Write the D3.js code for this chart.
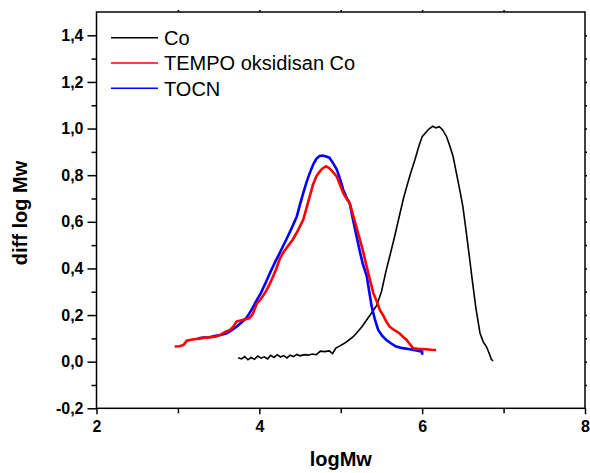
<!DOCTYPE html>
<html lang="en">
<head>
  <meta charset="UTF-8">
  <script src="https://cdn.jsdelivr.net/npm/d3@7"></script>
  <title>GPC</title>
  <style>
    body { margin: 0; background: #fff; }
    svg { display: block; }
    text { font-family: Arial, 'Liberation Sans', sans-serif; }
  </style>
</head>
<body>
  <svg id="chart" width="590" height="473"></svg>
  <script>
    // series: [logMw, diff log Mw]
    const co = [
      [3.74, 0.017], [3.78, 0.012], [3.82, 0.022], [3.86, 0.008], [3.90, 0.018], [3.94, 0.010],
      [3.98, 0.024], [4.02, 0.015], [4.06, 0.021], [4.10, 0.012], [4.14, 0.027], [4.18, 0.018],
      [4.22, 0.030], [4.26, 0.020], [4.30, 0.026], [4.34, 0.016], [4.38, 0.028], [4.42, 0.022],
      [4.46, 0.031], [4.50, 0.025], [4.55, 0.030], [4.60, 0.028], [4.65, 0.033], [4.70, 0.030],
      [4.75, 0.045], [4.80, 0.043], [4.86, 0.046], [4.90, 0.035], [4.94, 0.058], [4.99, 0.068],
      [5.05, 0.080], [5.10, 0.093], [5.15, 0.106], [5.20, 0.125], [5.26, 0.150], [5.32, 0.180],
      [5.38, 0.210], [5.44, 0.240], [5.50, 0.300], [5.55, 0.380], [5.60, 0.450], [5.65, 0.520],
      [5.69, 0.580], [5.73, 0.640], [5.77, 0.700], [5.81, 0.750], [5.86, 0.810], [5.91, 0.865],
      [5.96, 0.925], [6.00, 0.965], [6.05, 0.985], [6.09, 1.000], [6.13, 1.010], [6.17, 1.003],
      [6.21, 1.008], [6.25, 0.995], [6.30, 0.965], [6.34, 0.925], [6.38, 0.880], [6.42, 0.810],
      [6.46, 0.740], [6.50, 0.665], [6.54, 0.560], [6.58, 0.450], [6.62, 0.337], [6.66, 0.230],
      [6.71, 0.123], [6.75, 0.085], [6.79, 0.064], [6.83, 0.030], [6.85, 0.010], [6.87, 0.003]
    ];
    const tempo = [
      [2.96, 0.065], [3.02, 0.066], [3.07, 0.072], [3.11, 0.090], [3.16, 0.094], [3.22, 0.097],
      [3.27, 0.100], [3.33, 0.103], [3.40, 0.105], [3.47, 0.108], [3.52, 0.115], [3.58, 0.128],
      [3.64, 0.136], [3.68, 0.150], [3.72, 0.172], [3.78, 0.178], [3.83, 0.182], [3.88, 0.187],
      [3.92, 0.205], [3.97, 0.250], [4.02, 0.270], [4.06, 0.290], [4.09, 0.308], [4.13, 0.335],
      [4.17, 0.366], [4.21, 0.400], [4.25, 0.440], [4.29, 0.466], [4.35, 0.495], [4.41, 0.523],
      [4.47, 0.560], [4.54, 0.610], [4.58, 0.660], [4.62, 0.710], [4.66, 0.760], [4.70, 0.795],
      [4.74, 0.815], [4.78, 0.830], [4.82, 0.838], [4.86, 0.830], [4.90, 0.815], [4.95, 0.795],
      [4.99, 0.760], [5.03, 0.724], [5.07, 0.700], [5.11, 0.680], [5.15, 0.630], [5.19, 0.580],
      [5.23, 0.530], [5.27, 0.480], [5.31, 0.420], [5.36, 0.350], [5.40, 0.294], [5.44, 0.260],
      [5.48, 0.222], [5.52, 0.200], [5.56, 0.172], [5.60, 0.150], [5.66, 0.135], [5.72, 0.122],
      [5.77, 0.105], [5.81, 0.093], [5.85, 0.075], [5.89, 0.057], [5.95, 0.055], [6.05, 0.053],
      [6.11, 0.051], [6.17, 0.050]
    ];
    const tocn = [
      [3.25, 0.100], [3.32, 0.104], [3.39, 0.105], [3.45, 0.110], [3.52, 0.114], [3.60, 0.122],
      [3.66, 0.135], [3.72, 0.150], [3.78, 0.168], [3.84, 0.187], [3.90, 0.220], [3.97, 0.265],
      [4.02, 0.295], [4.08, 0.340], [4.13, 0.380], [4.19, 0.425], [4.25, 0.466], [4.29, 0.495],
      [4.33, 0.523], [4.40, 0.575], [4.46, 0.623], [4.50, 0.675], [4.54, 0.724], [4.58, 0.770],
      [4.62, 0.810], [4.66, 0.845], [4.70, 0.870], [4.74, 0.882], [4.78, 0.884], [4.82, 0.880],
      [4.86, 0.875], [4.90, 0.855], [4.95, 0.825], [4.99, 0.785], [5.03, 0.738], [5.07, 0.705],
      [5.11, 0.680], [5.15, 0.610], [5.19, 0.545], [5.23, 0.480], [5.27, 0.420], [5.32, 0.366],
      [5.35, 0.300], [5.38, 0.237], [5.42, 0.180], [5.46, 0.136], [5.51, 0.110], [5.56, 0.093],
      [5.62, 0.078], [5.68, 0.065], [5.76, 0.058], [5.85, 0.053], [5.93, 0.048], [6.00, 0.043],
      [6.00, 0.030]
    ];
    const xTicks = [2, 4, 6, 8];
    const yTicks = [-0.2, 0, 0.2, 0.4, 0.6, 0.8, 1.0, 1.2, 1.4];
    const legendNames = ["Co", "TEMPO oksidisan Co", "TOCN"];
    const colors = ["#000000", "#ff0000", "#0000ff"];

    const svg = d3.select("#chart");
    const mLeft = 96.5, mRight = 585, mTop = 12, mBottom = 408.3;
    const x = d3.scaleLinear().domain([2, 8]).range([mLeft, mRight]);
    const y = d3.scaleLinear().domain([-0.2, 1.5]).range([mBottom, mTop]);
    const fmt = d => d3.format(".1f")(d).replace(".", ",").replace("−", "-");

    // frame
    svg.append("rect")
      .attr("x", mLeft).attr("y", mTop)
      .attr("width", mRight - mLeft).attr("height", mBottom - mTop)
      .attr("fill", "none").attr("stroke", "#000").attr("stroke-width", 1.5);

    // bottom axis
    svg.append("g").attr("transform", `translate(0,${mBottom})`)
      .call(d3.axisBottom(x).tickValues(xTicks).tickFormat(d3.format("d")).tickSize(6).tickPadding(6));
    svg.append("g").attr("transform", `translate(0,${mBottom})`)
      .call(d3.axisBottom(x).tickValues([3, 5, 7]).tickFormat("").tickSize(5));

    // left axis
    svg.append("g").attr("transform", `translate(${mLeft},0)`)
      .call(d3.axisLeft(y).tickValues(yTicks).tickFormat(fmt).tickSize(9).tickPadding(4));
    svg.append("g").attr("transform", `translate(${mLeft},0)`)
      .call(d3.axisLeft(y).tickValues(d3.range(-0.1, 1.5, 0.2)).tickFormat("").tickSize(5));

    // small ticks on top and right
    svg.append("g").attr("transform", `translate(0,${mTop})`)
      .call(d3.axisTop(x).tickValues(d3.range(3, 8, 1)).tickFormat("").tickSize(2));
    svg.append("g").attr("transform", `translate(${mRight},0)`)
      .call(d3.axisRight(y).tickValues(d3.range(-0.1, 1.5, 0.1)).tickFormat("").tickSize(2));

    svg.selectAll(".domain").remove();
    svg.selectAll(".tick line").attr("stroke", "#000").attr("stroke-width", 1.5);
    svg.selectAll(".tick text")
      .attr("fill", "#000")
      .attr("font-size", 16)
      .attr("font-weight", "bold")
      .attr("font-family", "Arial, 'Liberation Sans', sans-serif");

    // series
    const line = d3.line().x(d => x(d[0])).y(d => y(d[1]));
    svg.append("path").datum(co).attr("d", line)
      .attr("fill", "none").attr("stroke", colors[0]).attr("stroke-width", 1.6);
    svg.append("path").datum(tocn).attr("d", line)
      .attr("fill", "none").attr("stroke", colors[2]).attr("stroke-width", 2.6);
    svg.append("path").datum(tempo).attr("d", line)
      .attr("fill", "none").attr("stroke", colors[1]).attr("stroke-width", 2.6);

    // legend
    legendNames.forEach((name, i) => {
      const ly = 37.7 + i * 25.3;
      svg.append("line").attr("x1", 111).attr("x2", 158).attr("y1", ly).attr("y2", ly)
        .attr("stroke", colors[i]).attr("stroke-width", 1.5);
      svg.append("text").attr("x", 164).attr("y", ly + 7.3)
        .attr("font-size", 20).attr("fill", "#000").text(name);
    });

    // axis titles
    svg.append("text").attr("x", (mLeft + mRight) / 2).attr("y", 466)
      .attr("text-anchor", "middle").attr("font-size", 20).attr("font-weight", "bold")
      .text("logMw");
    svg.append("text").attr("transform", "translate(27,213) rotate(-90)")
      .attr("text-anchor", "middle").attr("font-size", 20).attr("font-weight", "bold")
      .text("diff log Mw");
  </script>
</body>
</html>
